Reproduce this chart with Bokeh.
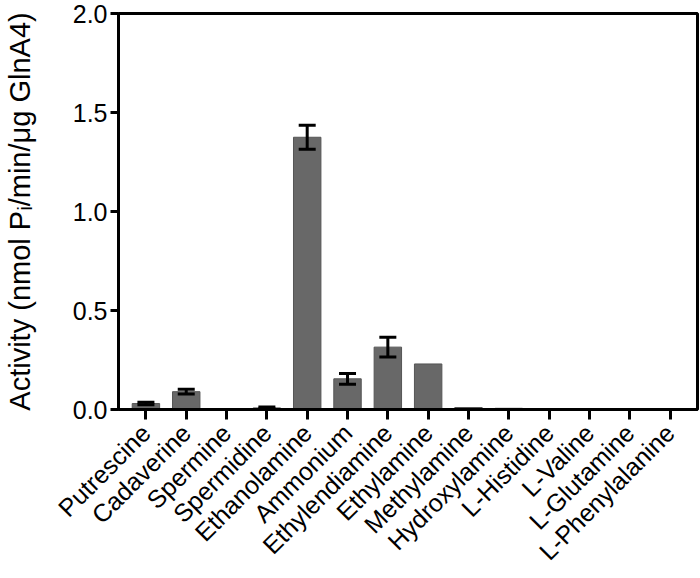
import math
from bokeh.plotting import figure
from bokeh.models import (ColumnDataSource, FactorRange, Range1d, FixedTicker,
                          NumeralTickFormatter, Whisker, TeeHead)
from bokeh.embed import file_html
from bokeh.resources import INLINE

# ---- data ----
categories = ["Putrescine", "Cadaverine", "Spermine", "Spermidine", "Ethanolamine",
              "Ammonium", "Ethylendiamine", "Ethylamine", "Methylamine",
              "Hydroxylamine", "L-Histidine", "L-Valine", "L-Glutamine",
              "L-Phenylalanine"]
activity = [0.030, 0.090, 0.0, 0.008, 1.375, 0.155, 0.315, 0.230, 0.010, 0.006,
            0.0, 0.0, 0.0, 0.0]
error = [0.006, 0.012, 0.0, 0.004, 0.060, 0.027, 0.050, 0.0, 0.0, 0.0,
         0.0, 0.0, 0.0, 0.0]
y_ticks = [0.0, 0.5, 1.0, 1.5, 2.0]
y_label = "Activity (nmol P\u1d62/min/\u03bcg GlnA4)"

FONT = "Liberation Sans"

bars = ColumnDataSource(dict(cat=categories, val=activity))
err_cats = [c for c, e in zip(categories, error) if e > 0]
err_up = [v + e for v, e in zip(activity, error) if e > 0]
err_lo = [v - e for v, e in zip(activity, error) if e > 0]
errs = ColumnDataSource(dict(cat=err_cats, upper=err_up, lower=err_lo))

p = figure(width=700, height=578, output_backend="svg", toolbar_location=None,
           x_range=FactorRange(*categories, range_padding=0.18,
                               range_padding_units="absolute"),
           y_range=Range1d(0, 2.0),
           min_border_left=118, min_border_right=3, min_border_top=13,
           min_border_bottom=166)

p.vbar(x="cat", top="val", width=0.68, source=bars,
       fill_color="#686868", line_color="#555555", line_width=1)

head_u = TeeHead(size=17, line_width=3, line_color="black")
head_l = TeeHead(size=17, line_width=3, line_color="black")
p.add_layout(Whisker(base="cat", upper="upper", lower="lower", source=errs,
                     line_width=3, line_color="black", upper_head=head_u,
                     lower_head=head_l, level="annotation"))

p.xgrid.grid_line_color = None
p.ygrid.grid_line_color = None
p.outline_line_color = "black"
p.outline_line_width = 3
p.outline_line_alpha = 1.0
p.background_fill_color = "white"
p.border_fill_color = "white"

ya = p.yaxis[0]
ya.ticker = FixedTicker(ticks=y_ticks)
ya.formatter = NumeralTickFormatter(format="0.0")
ya.axis_label = y_label
ya.axis_label_text_font = FONT
ya.axis_label_text_font_size = "29px"
ya.axis_label_text_font_style = "normal"
ya.axis_label_text_color = "black"
ya.axis_label_standoff = 34
ya.major_label_text_font = FONT
ya.major_label_text_font_size = "25px"
ya.major_label_text_color = "black"
ya.major_label_standoff = 3
ya.axis_line_width = 3
ya.axis_line_color = "black"
ya.major_tick_line_width = 3
ya.major_tick_out = 8
ya.major_tick_in = 0
ya.minor_tick_line_color = None

xa = p.xaxis[0]
xa.major_label_orientation = math.pi / 4
xa.major_label_text_font = FONT
xa.major_label_text_font_size = "25px"
xa.major_label_text_color = "black"
xa.major_label_standoff = 9
xa.axis_line_width = 3
xa.axis_line_color = "black"
xa.major_tick_line_width = 3
xa.major_tick_out = 10
xa.major_tick_in = 0
xa.minor_tick_line_color = None

open("out.html", "w").write(file_html(p, INLINE))
